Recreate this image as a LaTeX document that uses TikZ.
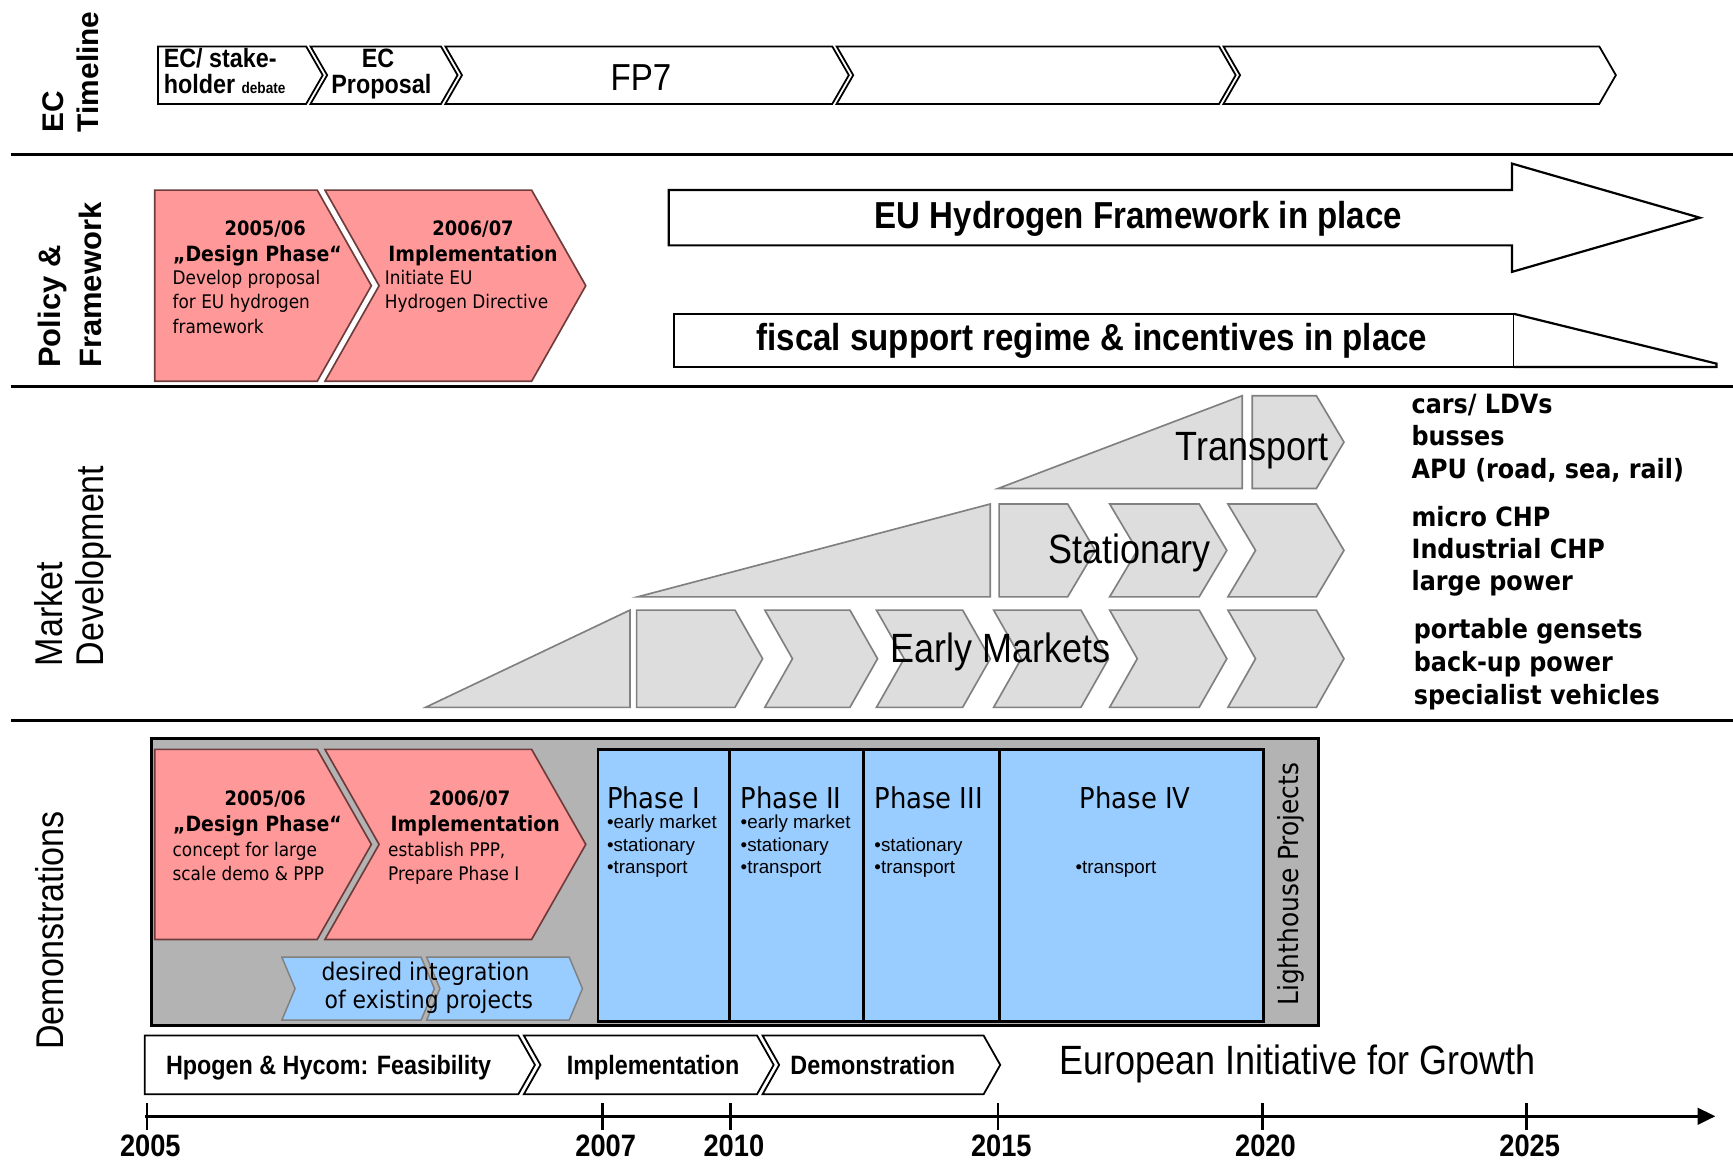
\documentclass[tikz,border=0pt]{standalone}
\usepackage{fontspec}
\setmainfont{Liberation Sans}
\newfontfamily\arialn[FakeStretch=0.88]{Liberation Sans}
\newfontfamily\tahoma[FakeStretch=0.9]{DejaVu Sans}
\usetikzlibrary{arrows.meta}
\definecolor{pinkFill}{RGB}{255,153,153}
\definecolor{pinkLine}{RGB}{110,60,60}
\definecolor{blueFill}{RGB}{153,204,255}
\definecolor{marketFill}{RGB}{221,221,221}
\definecolor{marketLine}{RGB}{128,128,128}
\definecolor{demoFill}{RGB}{179,179,179}
\newcommand{\fsz}[2]{\fontsize{#1}{#2}\selectfont}
\tikzstyle{chart} = [x=1pt, y=-1pt, every node/.style={inner sep=0}]
\tikzstyle{rowLine} = [line width=3pt]
\tikzstyle{timelineStyle} = [draw=black, fill=white, line width=1.6pt]
\tikzstyle{pinkStyle} = [draw=pinkLine, fill=pinkFill, line width=1.5pt]
\tikzstyle{marketStyle} = [draw=marketLine, fill=marketFill, line width=1.5pt]
\tikzstyle{blueStyle} = [draw=marketLine, fill=blueFill, line width=1.3pt]
\tikzstyle{phaseStyle} = [draw=black, fill=blueFill, line width=2.5pt]
\tikzstyle{demoBoxStyle} = [draw=black, fill=demoFill, line width=3pt]
\tikzstyle{arrowBoxStyle} = [draw=black, fill=white, line width=2pt]
\tikzstyle{axisLine} = [line width=2.5pt]
\tikzstyle{sideLabel} = [rotate=90, align=left]
\tikzstyle{ecText} = [font=\arialn\bfseries\fsz{24}{26}, text height=17pt, text depth=5pt]
\tikzstyle{bigBoldText} = [font=\arialn\bfseries\fsz{34}{38}]
\tikzstyle{marketText} = [font=\arialn\fsz{37}{40}]
\tikzstyle{pinkYear} = [font=\tahoma\bfseries\fsz{18}{20}]
\tikzstyle{pinkHead} = [font=\tahoma\bfseries\fsz{19}{22}]
\tikzstyle{pinkText} = [font=\tahoma\fsz{17}{20}, anchor=west, text height=13pt, text depth=4pt]
\tikzstyle{listText} = [font=\tahoma\bfseries\fsz{24}{26}, anchor=west, text height=18pt, text depth=5pt]
\tikzstyle{blueText} = [font=\tahoma\fsz{22}{24}]
\tikzstyle{phaseHead} = [font=\tahoma\fsz{26}{28}]
\tikzstyle{phaseItem} = [font=\fsz{17}{19}, anchor=west, text height=12pt, text depth=4pt]
\tikzstyle{bottomText} = [font=\arialn\bfseries\fsz{24}{26}, text height=17pt, text depth=5pt]
\tikzstyle{yearText} = [font=\arialn\bfseries\fsz{28}{30}]
\newcommand{\flatChevron}[6]{\filldraw [#1] (#2, #4) -- (#3 - #6, #4) -- (#3, #4 / 2 + #5 / 2) -- (#3 - #6, #5) -- (#2, #5) -- cycle;}
\newcommand{\notchChevron}[6]{\filldraw [#1] (#2, #4) -- (#3 - #6, #4) -- (#3, #4 / 2 + #5 / 2) -- (#3 - #6, #5) -- (#2, #5) -- (#2 + #6, #4 / 2 + #5 / 2) -- cycle;}
\newcommand{\ramp}[5]{\filldraw [#1] (#2, #5) -- (#3, #4) -- (#3, #5) -- cycle;}

\begin{document}
\begin{tikzpicture}[chart]
  \useasboundingbox (0,0) rectangle (1568,1051);
  \foreach \ypos in {140,350,652} {
    \draw [rowLine] (10,\ypos) -- (1568,\ypos);
  }

  \node [sideLabel, font=\bfseries\fsz{27}{32}] (ecLabel) at (64,65) {EC\\Timeline};
  \node [sideLabel, font=\bfseries\fsz{28}{37}] (policyLabel) at (63,258) {Policy \&\\Framework};
  \node [sideLabel, font=\arialn\fsz{35}{37}] (marketLabel) at (66,512) {Market\\Development};
  \node [sideLabel, font=\arialn\fsz{35}{37}] (demoLabel) at (45,842) {Demonstrations};

  \flatChevron{timelineStyle}{143}{292}{42}{94}{15}
  \foreach \xl/\xr in {281/414, 403/768, 757/1118, 1107/1462} {
    \notchChevron{timelineStyle}{\xl}{\xr}{42}{94}{15}
  }
  \node [ecText, anchor=west] (ecStake) at (148,55) {EC/ stake-};
  \node [ecText, anchor=west] (ecHolder) at (148,79) {holder {\fsz{14}{16}debate}};
  \node [ecText] (ecName) at (342,55) {EC};
  \node [ecText] (ecProposal) at (345,79) {Proposal};
  \node [font=\arialn\fsz{34}{36}] (fpSeven) at (580,70) {FP7};

  \flatChevron{pinkStyle}{140}{336}{172}{345}{49}
  \notchChevron{pinkStyle}{294}{530}{172}{345}{49}
  \node [pinkYear] (policyYearA) at (240,207) {2005/06};
  \node [pinkHead] (policyHeadA) at (233,231) {„Design Phase“};
  \foreach \txt [count=\i] in {Develop proposal, for EU hydrogen, framework}
    \node [pinkText] (policyTextA\i) at (156, 231 + 22 * \i) {\txt};
  \node [pinkYear] (policyYearB) at (428,207) {2006/07};
  \node [pinkHead] (policyHeadB) at (428,231) {Implementation};
  \foreach \txt [count=\i] in {Initiate EU, Hydrogen Directive}
    \node [pinkText] (policyTextB\i) at (348, 231 + 22 * \i) {\txt};

  \filldraw [arrowBoxStyle] (605,172) -- (1368,172) -- (1368,148) -- (1538,197) -- (1368,246) -- (1368,222) -- (605,222) -- cycle;
  \node [bigBoldText] (frameworkText) at (1030,198) {EU Hydrogen Framework in place};
  \draw [arrowBoxStyle] (610,284) rectangle (1370,332);
  \draw [arrowBoxStyle] (1370,284) -- (1553,329) -- (1553,332) -- (1370,332);
  \node [bigBoldText] (fiscalText) at (988,308) {fiscal support regime \& incentives in place};

  \ramp{marketStyle}{903}{1124}{358}{442}
  \flatChevron{marketStyle}{1133}{1216}{358}{442}{25}
  \ramp{marketStyle}{577}{896}{456}{540}
  \flatChevron{marketStyle}{904}{991}{456}{540}{25}
  \foreach \xl/\xr in {1004/1110, 1111/1216} {
    \notchChevron{marketStyle}{\xl}{\xr}{456}{540}{25}
  }
  \ramp{marketStyle}{385}{570}{552}{640}
  \flatChevron{marketStyle}{576}{690}{552}{640}{25}
  \foreach \xl/\xr in {692/794, 793/896, 899/1003, 1004/1110, 1111/1216} {
    \notchChevron{marketStyle}{\xl}{\xr}{552}{640}{25}
  }
  \node [marketText] (transportText) at (1133,408) {Transport};
  \node [marketText] (stationaryText) at (1022,500) {Stationary};
  \node [marketText] (earlyText) at (905,590) {Early Markets};
  \foreach \txt [count=\i] in {cars/ LDVs, busses, {APU (road, sea, rail)}}
    \node [listText] (transportItem\i) at (1277, 339 + 29 * \i) {\txt};
  \foreach \txt [count=\i] in {micro CHP, Industrial CHP, large power}
    \node [listText] (stationaryItem\i) at (1277, 441 + 29 * \i) {\txt};
  \foreach \txt [count=\i] in {portable gensets, back-up power, specialist vehicles}
    \node [listText] (earlyItem\i) at (1279, 541 + 30 * \i) {\txt};

  \filldraw [demoBoxStyle] (137,668) rectangle (1193,928);
  \flatChevron{pinkStyle}{140}{336}{678}{850}{49}
  \notchChevron{pinkStyle}{294}{530}{678}{850}{49}
  \node [pinkYear] (demoYearA) at (240,723) {2005/06};
  \node [pinkHead] (demoHeadA) at (233,747) {„Design Phase“};
  \foreach \txt [count=\i] in {concept for large, scale demo \& PPP}
    \node [pinkText] (demoTextA\i) at (156, 748 + 22 * \i) {\txt};
  \node [pinkYear] (demoYearB) at (425,723) {2006/07};
  \node [pinkHead] (demoHeadB) at (430,747) {Implementation};
  \foreach \txt [count=\i] in {{establish PPP,}, Prepare Phase I}
    \node [pinkText] (demoTextB\i) at (351, 748 + 22 * \i) {\txt};
  \notchChevron{blueStyle}{255}{393}{866}{923}{12}
  \notchChevron{blueStyle}{386}{527}{866}{923}{12}
  \node [blueText] (desiredText) at (385,881) {desired integration};
  \node [blueText] (existingText) at (388,906) {of existing projects};

  \filldraw [phaseStyle] (541,678) rectangle (1143,924);
  \foreach \xpos in {660,781,904}
    \draw [phaseStyle] (\xpos,678) -- (\xpos,924);
  \node [phaseHead, anchor=west] (phaseOne) at (549,722) {Phase I};
  \node [phaseHead, anchor=west] (phaseTwo) at (670,722) {Phase II};
  \node [phaseHead, anchor=west] (phaseThree) at (791,722) {Phase III};
  \node [phaseHead] (phaseFour) at (1027,722) {Phase IV};
  \foreach \xpos/\name in {549/One, 670/Two} {
    \foreach \txt [count=\i] in {•early market, •stationary, •transport}
      \node [phaseItem] (item\name\i) at (\xpos, 726 + 20 * \i) {\txt};
  }
  \node [phaseItem] (itemThreeA) at (791,766) {•stationary};
  \node [phaseItem] (itemThreeB) at (791,786) {•transport};
  \node [phaseItem] (itemFour) at (973,786) {•transport};
  \node [sideLabel, font=\tahoma\fsz{25}{27}] (lighthouseText) at (1168,800) {Lighthouse Projects};

  \flatChevron{timelineStyle}{131}{484}{937}{990}{15}
  \notchChevron{timelineStyle}{474}{700}{937}{990}{15}
  \notchChevron{timelineStyle}{690}{905}{937}{990}{15}
  \node [bottomText, anchor=west] (feasibilityText) at (150,966) {Hpogen \& Hycom: Feasibility};
  \node [bottomText] (implementationText) at (591,966) {Implementation};
  \node [bottomText, anchor=west] (demonstrationText) at (715,966) {Demonstration};
  \node [font=\arialn\fsz{37}{40}, anchor=west] (growthText) at (958,963) {European Initiative for Growth};

  \coordinate (axisStart) at (131,1010);
  \coordinate (axisEnd) at (1552,1010);
  \draw [axisLine, -{Triangle[length=16pt, width=15pt]}] (axisStart) -- (axisEnd);
  \foreach \year/\xpos in {2005/133, 2007/545, 2010/661, 2015/903, 2020/1142, 2025/1381} {
    \draw [axisLine] (\xpos,998) -- (\xpos,1022);
    \node [yearText] (year\year) at (\xpos + 3,1037) {\year};
  }
\end{tikzpicture}
\end{document}
